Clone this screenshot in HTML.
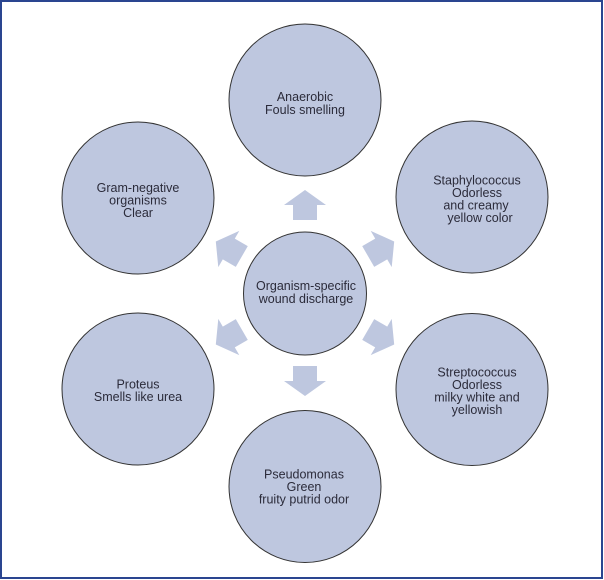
<!DOCTYPE html>
<html>
<head>
<meta charset="utf-8">
<style>
  html, body { margin: 0; padding: 0; background: #ffffff; }
  svg { display: block; }
  text { font-family: "Liberation Sans", sans-serif; font-size: 12.5px; fill: #2b2b3a; text-anchor: middle; }
</style>
</head>
<body>
<svg width="604" height="580" viewBox="0 0 604 580" xmlns="http://www.w3.org/2000/svg">
  <rect x="0" y="0" width="604" height="580" fill="#ffffff"/>
  <rect x="1" y="1" width="601" height="577" fill="none" stroke="#2a4590" stroke-width="2"/>

  <!-- arrows -->
  <g fill="#bec7df">
    <g transform="translate(305,293) rotate(-90)"><polygon points="73,-12 88,-12 88,-21 103,0 88,21 88,12 73,12"/></g>
    <g transform="translate(305,293) rotate(90)"><polygon points="73,-12 88,-12 88,-21 103,0 88,21 88,12 73,12"/></g>
    <g transform="translate(305,293) rotate(-30)"><polygon points="73,-12 88,-12 88,-21 103,0 88,21 88,12 73,12"/></g>
    <g transform="translate(305,293) rotate(30)"><polygon points="73,-12 88,-12 88,-21 103,0 88,21 88,12 73,12"/></g>
    <g transform="translate(305,293) rotate(150)"><polygon points="73,-12 88,-12 88,-21 103,0 88,21 88,12 73,12"/></g>
    <g transform="translate(305,293) rotate(210)"><polygon points="73,-12 88,-12 88,-21 103,0 88,21 88,12 73,12"/></g>
  </g>

  <!-- circles -->
  <g fill="#bec7df" stroke="#333333" stroke-width="1">
    <circle cx="305" cy="100" r="76"/>
    <circle cx="138" cy="198" r="76"/>
    <circle cx="472" cy="197" r="76"/>
    <circle cx="138" cy="389" r="76"/>
    <circle cx="472" cy="389.5" r="76"/>
    <circle cx="305" cy="486.5" r="76"/>
    <circle cx="305" cy="293.5" r="61.5"/>
  </g>

  <!-- labels -->
  <text x="305" y="101">Anaerobic</text>
  <text x="305" y="114">Fouls smelling</text>

  <text x="306" y="290">Organism-specific</text>
  <text x="306" y="303">wound discharge</text>

  <text x="138" y="192">Gram-negative</text>
  <text x="138" y="204.5">organisms</text>
  <text x="138" y="217">Clear</text>

  <text x="477" y="184.5">Staphylococcus</text>
  <text x="477" y="197">Odorless</text>
  <text x="476" y="209.5">and creamy</text>
  <text x="480" y="222">yellow color</text>

  <text x="138" y="388.5">Proteus</text>
  <text x="138" y="401">Smells like urea</text>

  <text x="477" y="376.5">Streptococcus</text>
  <text x="477" y="389">Odorless</text>
  <text x="477" y="401.5">milky white and</text>
  <text x="477" y="414">yellowish</text>

  <text x="304" y="478.5">Pseudomonas</text>
  <text x="304" y="491">Green</text>
  <text x="304" y="503.5">fruity putrid odor</text>
</svg>
</body>
</html>
